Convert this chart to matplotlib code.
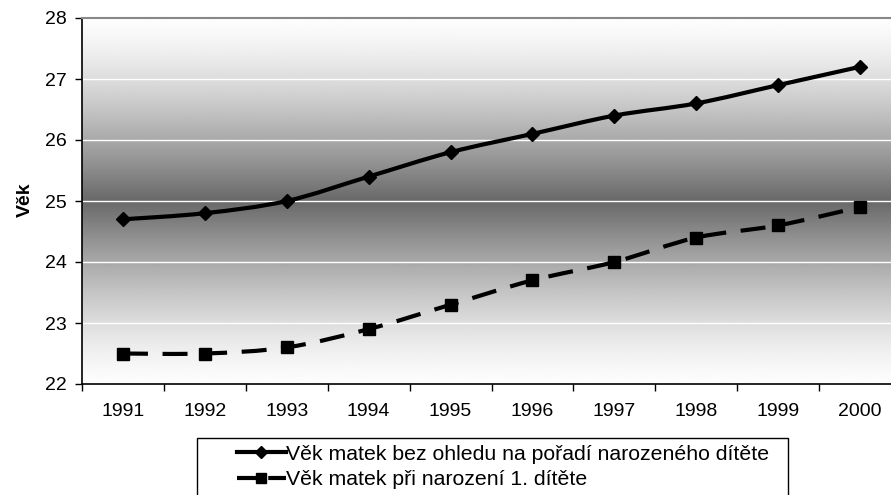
import numpy as np
import matplotlib
matplotlib.use("Agg")
import matplotlib.pyplot as plt
from matplotlib.path import Path
from matplotlib.patches import PathPatch, Rectangle
from matplotlib.lines import Line2D

plt.rcParams['font.family'] = ['Liberation Sans', 'DejaVu Sans']

years = ["1991", "1992", "1993", "1994", "1995", "1996", "1997", "1998", "1999", "2000"]
vek_vse = [24.7, 24.8, 25.0, 25.4, 25.8, 26.1, 26.4, 26.6, 26.9, 27.2]
vek_prvni = [22.5, 22.5, 22.6, 22.9, 23.3, 23.7, 24.0, 24.4, 24.6, 24.9]
labels = ["Věk matek bez ohledu na pořadí narozeného dítěte",
          "Věk matek při narození 1. dítěte"]
y_ticks = [22, 23, 24, 25, 26, 27, 28]

W, H = 891, 495
fig = plt.figure(figsize=(W / 100, H / 100), dpi=100)
ax = fig.add_axes([82 / W, 1 - 384 / H, 819 / W, 366 / H])

n = len(years)
x = np.arange(n)
ax.set_xlim(-0.5, n - 0.5)
ax.set_ylim(22, 28)

# gradient background: white top -> dark middle -> white bottom
t = np.linspace(0, 1, 400)
d = 1 - np.abs(t - 0.5) * 2
gray = 0.99 - 0.58 * d ** 1.4
img = np.repeat(gray[:, None], 2, axis=1)
ax.imshow(img, extent=[-0.5, n - 0.5, 22, 28], origin='lower', aspect='auto',
          cmap='gray', vmin=0, vmax=1, zorder=0, interpolation='bilinear')

for yv in y_ticks[1:-1]:
    ax.axhline(yv, color='white', lw=1.0, zorder=1)


def smooth_path(xs, ys):
    pts = np.column_stack([xs, ys]).astype(float)
    verts = [pts[0]]
    codes = [Path.MOVETO]
    for i in range(len(pts) - 1):
        p0 = pts[i - 1] if i > 0 else pts[i]
        p1 = pts[i]
        p2 = pts[i + 1]
        p3 = pts[i + 2] if i + 2 < len(pts) else pts[i + 1]
        c1 = p1 + (p2 - p0) / 6
        c2 = p2 - (p3 - p1) / 6
        verts += [c1, c2, p2]
        codes += [Path.CURVE4] * 3
    return Path(verts, codes)


ax.add_patch(PathPatch(smooth_path(x, vek_vse), fill=False, lw=3, color='black',
                       zorder=3, capstyle='butt'))
ax.plot(x, vek_vse, ls='none', marker='D', ms=7, color='black', zorder=4)

ax.add_patch(PathPatch(smooth_path(x, vek_prvni), fill=False, lw=3, color='black',
                       linestyle=(0, (6, 3.5)), zorder=3, capstyle='butt'))
ax.plot(x, vek_prvni, ls='none', marker='s', ms=8, color='black', zorder=4)

ax.set_yticks(y_ticks)
ax.set_yticklabels([str(v) for v in y_ticks], fontsize=14)
ax.set_xticks(x)
ax.set_xticklabels(years, fontsize=14)
ax.set_xticks(np.arange(-0.5, n, 1), minor=True)
ax.tick_params(axis='x', which='major', length=0, pad=14)
ax.tick_params(axis='x', which='minor', length=5, width=1, direction='out')
ax.tick_params(axis='y', length=5, width=1, direction='out', pad=6)

ax.spines['right'].set_visible(False)
ax.spines['top'].set_color('#888888')
ax.spines['top'].set_linewidth(1.5)
ax.spines['left'].set_linewidth(1.2)
ax.spines['bottom'].set_linewidth(1.2)

fig.text(25 / W, 1 - 200 / H, "Věk", rotation=90, fontsize=14, fontweight='bold',
         ha='center', va='center')

# legend box (extends past bottom edge like the reference)
fig.patches.append(Rectangle((197 / W, -0.05), (788 - 197) / W, 0.05 + (495 - 438) / H,
                             transform=fig.transFigure, fill=False, ec='black', lw=1))
h1 = Line2D([], [], color='black', lw=3, marker='D', ms=6)
h2 = Line2D([], [], color='black', lw=3, marker='s', ms=7, linestyle=(0, (5, 2.5)))
fig.legend([h1, h2], labels, loc='center left', bbox_to_anchor=(237 / W, 1 - 467 / H),
           frameon=False, fontsize=15.3, handlelength=2.3, handletextpad=0.0,
           labelspacing=0.3, borderaxespad=0, borderpad=0)

fig.savefig("out.png", dpi=100)
